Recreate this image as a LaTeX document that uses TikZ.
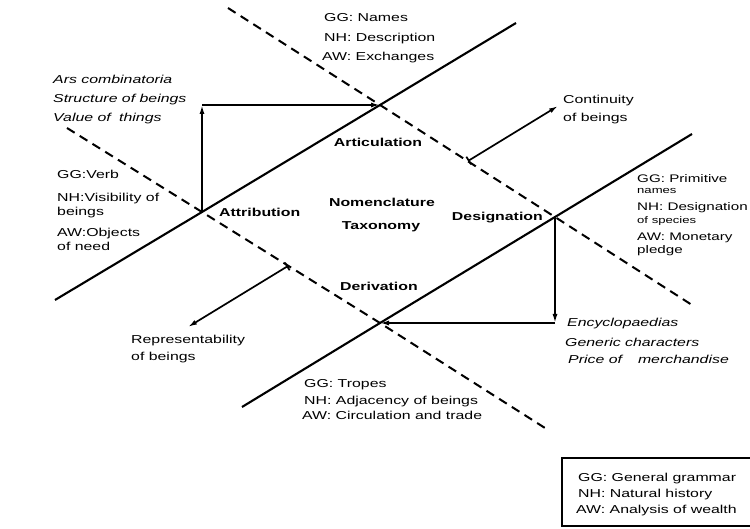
\documentclass[tikz,border=0pt]{standalone}
\usepackage{fontspec}
\setmainfont{Liberation Sans}[FakeStretch=1.38]
\usetikzlibrary{arrows.meta}
\begin{document}
\begin{tikzpicture}[x=1pt, y=-1pt,
  solidline/.style={line width=2.1pt},
  dashline/.style={line width=2pt, dash pattern=on 9pt off 6pt},
  arr/.style={line width=1.7pt, -{Latex[length=9pt,width=5pt]}},
  barr/.style={line width=1.7pt, {Bar[width=9pt,line width=1.7pt]}-{Latex[length=9pt,width=5pt]}},
  txt/.style={anchor=base west, inner sep=0pt, font=\fontsize{11.5}{13}\selectfont},
  rtxt/.style={anchor=base west, inner sep=0pt, font=\fontsize{11}{13}\selectfont},
  itxt/.style={anchor=base west, inner sep=0pt, font=\fontsize{11.5}{13}\selectfont\itshape},
  smalltxt/.style={anchor=base west, inner sep=0pt, font=\fontsize{9.5}{10}\selectfont},
  lbl/.style={anchor=base, inner sep=0pt, font=\fontsize{11.5}{13}\selectfont\bfseries},
  legendbox/.style={draw, line width=1.4pt}]
\useasboundingbox (0,0) rectangle (750,529);
\fill[white] (0,0) rectangle (750,529);

% intersections
\coordinate (art) at (380,105);
\coordinate (attr) at (202,212);
\coordinate (des) at (555,217);
\coordinate (der) at (380,323);
\coordinate (ctl) at (202,105);
\coordinate (cbr) at (555,323);
% line ends
\coordinate (s1a) at (55,300);
\coordinate (s1b) at (516,23);
\coordinate (s2a) at (242,407);
\coordinate (s2b) at (692,134);
\coordinate (d1a) at (228,8);
\coordinate (d1b) at (692,305);
\coordinate (d2a) at (67,128);
\coordinate (d2b) at (545,428);
\coordinate (cb) at (468,161);
\coordinate (ce) at (558,106);
\coordinate (rb) at (288,266);
\coordinate (re) at (188,327);

\draw[solidline] (s1a) -- (attr) -- (art) -- (s1b);
\draw[solidline] (s2a) -- (der) -- (des) -- (s2b);
\draw[dashline] (d1a) -- (art) -- (des) -- (d1b);
\draw[dashline] (d2a) -- (attr) -- (der) -- (d2b);

\draw[arr] (attr) -- (ctl);
\draw[arr] (ctl) -- (art);
\draw[arr] (des) -- (cbr);
\draw[arr] (cbr) -- (der);
\draw[barr] (cb) -- (ce);
\draw[barr] (rb) -- (re);

% central labels
\node[lbl] (tart) at (378,147) {Articulation};
\node[lbl, anchor=base west] (tattr) at (219,217) {Attribution};
\node[lbl, anchor=base east] (tdes) at (543,221) {Designation};
\node[lbl] (tder) at (379,291) {Derivation};
\node[lbl] (tnom) at (382,207) {Nomenclature};
\node[lbl] (ttax) at (381,230) {Taxonomy};

% top group
\node[txt] (g1) at (324,22) {GG: Names};
\node[txt] (n1) at (324,42) {NH: Description};
\node[txt] (a1) at (322,61) {AW: Exchanges};

% left italic
\node[itxt] (i1) at (53,84) {Ars combinatoria};
\node[itxt] (i2) at (53,103) {Structure of beings};
\node[itxt] (i3) at (53,122) {Value of\hspace{4pt} things};

% left group
\node[txt] (g2) at (57,179) {GG:Verb};
\node[txt] (n2) at (57,202) {NH:Visibility of};
\node[txt] (n2b) at (57,216) {beings};
\node[txt] (a2) at (57,237) {AW:Objects};
\node[txt] (a2b) at (57,251) {of need};

% continuity
\node[txt] (c1) at (563,104) {Continuity};
\node[txt] (c2) at (563,122) {of beings};

% right group
\node[rtxt] (g3) at (637,183) {GG: Primitive};
\node[smalltxt] (g3b) at (637,194) {names};
\node[rtxt] (n3) at (637,211) {NH: Designation};
\node[smalltxt] (n3b) at (637,224) {of species};
\node[rtxt] (a3) at (637,241) {AW: Monetary};
\node[rtxt] (a3b) at (637,254) {pledge};

% right italic
\node[itxt] (e1) at (567,327) {Encyclopaedias};
\node[itxt] (e2) at (565,347) {Generic characters};
\node[itxt] (e3) at (568,364) {Price of\hspace{16pt}merchandise};

% representability
\node[txt] (r1) at (131,344) {Representability};
\node[txt] (r2) at (131,361) {of beings};

% bottom group
\node[txt] (g4) at (304,388) {GG: Tropes};
\node[txt] (n4) at (304,404) {NH: Adjacency of beings};
\node[txt] (a4) at (302,420) {AW: Circulation and trade};

% legend
\draw[legendbox] (562,458) rectangle (780,526);
\node[txt] (lg) at (578,481) {GG: General grammar};
\node[txt] (ln) at (578,497) {NH: Natural history};
\node[txt] (la) at (576,513) {AW: Analysis of wealth};
\end{tikzpicture}
\end{document}
